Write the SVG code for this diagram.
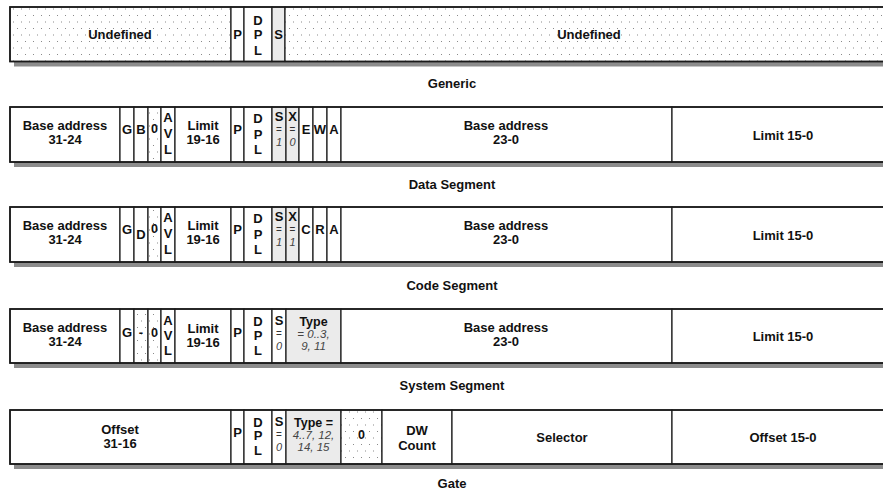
<svg xmlns="http://www.w3.org/2000/svg" width="883" height="493" viewBox="0 0 883 493">
<defs>
<pattern id="dots" width="8" height="13" patternUnits="userSpaceOnUse">
<rect width="8" height="13" fill="#fff"/>
<rect x="1" y="2" width="1" height="1" fill="#8a8a8a"/>
<rect x="5" y="8.5" width="1" height="1" fill="#8a8a8a"/>
</pattern>
</defs>
<style>
.t{font-family:"Liberation Sans",Arial,sans-serif;font-size:13px;font-weight:bold;fill:#111;text-anchor:middle}
.ty{font-family:"Liberation Sans",Arial,sans-serif;font-size:12.5px;font-weight:bold;fill:#111;text-anchor:middle}
.i{font-family:"Liberation Sans",Arial,sans-serif;font-size:11.5px;font-style:italic;fill:#444;text-anchor:middle}
.v{font-family:"Liberation Sans",Arial,sans-serif;font-size:11px;font-style:italic;fill:#444;text-anchor:middle}
.n{font-family:"Liberation Sans",Arial,sans-serif;font-size:10px;fill:#333;text-anchor:middle}
.w{fill:#fff;stroke:#1a1a1a;stroke-width:1.2}
.g{fill:#ebebeb;stroke:#1a1a1a;stroke-width:1.2}
.d{fill:url(#dots);stroke:#1a1a1a;stroke-width:1.2}
.sh{fill:#8c8c8c}
.box{fill:none;stroke:#1a1a1a;stroke-width:1.7}
.lbl{font-family:"Liberation Sans",Arial,sans-serif;font-size:13px;font-weight:bold;fill:#111;text-anchor:middle}
</style>

<!-- Row 1: Generic -->
<g id="row-generic">
<rect class="sh" x="14" y="61.5" width="884" height="5"/>
<g id="g-undef1"><rect class="d" x="10" y="7" width="221" height="54.5"/><text class="t" x="120" y="38.5">Undefined</text></g>
<g id="g-p"><rect class="w" x="231" y="7" width="13" height="54.5"/><text class="t" x="237.5" y="38.5">P</text></g>
<g id="g-dpl"><rect class="w" x="244" y="7" width="28" height="54.5"/><text class="t" x="258" y="24.5">D</text><text class="t" x="258" y="39">P</text><text class="t" x="258" y="54.5">L</text></g>
<g id="g-s"><rect class="g" x="272" y="7" width="13" height="54.5"/><text class="t" x="278.5" y="38.5">S</text></g>
<g id="g-undef2"><rect class="d" x="285" y="7" width="609" height="54.5"/><text class="t" x="589" y="38.5">Undefined</text></g>
<rect class="box" x="10" y="7" width="884" height="54.5"/>
</g>
<text id="lbl-generic" class="lbl" x="452" y="88">Generic</text>

<!-- Row 2: Data Segment -->
<g id="row-data">
<rect class="sh" x="14" y="162" width="884" height="5"/>
<g id="d-base1"><rect class="w" x="10" y="107" width="110" height="55"/><text class="t" x="65" y="130">Base address</text><text class="t" x="65" y="144">31-24</text></g>
<g id="d-g"><rect class="w" x="120" y="107" width="14" height="55"/><text class="t" x="127" y="134">G</text></g>
<g id="d-b"><rect class="w" x="134" y="107" width="14" height="55"/><text class="t" x="141" y="134">B</text></g>
<g id="d-0"><rect class="d" x="148" y="107" width="13" height="55"/><text class="ty" x="154.5" y="133">0</text></g>
<g id="d-avl"><rect class="w" x="161" y="107" width="14" height="55"/><text class="t" x="168" y="122">A</text><text class="t" x="168" y="138">V</text><text class="t" x="168" y="154">L</text></g>
<g id="d-limit1"><rect class="w" x="175" y="107" width="56" height="55"/><text class="t" x="203" y="130">Limit</text><text class="t" x="203" y="144">19-16</text></g>
<g id="d-p"><rect class="w" x="231" y="107" width="13" height="55"/><text class="t" x="237.5" y="134">P</text></g>
<g id="d-dpl"><rect class="w" x="244" y="107" width="28" height="55"/><text class="t" x="258" y="123">D</text><text class="t" x="258" y="138.5">P</text><text class="t" x="258" y="154">L</text></g>
<g id="d-s"><rect class="g" x="272" y="107" width="14" height="55"/><text class="t" x="279" y="120.5">S</text><text class="n" x="279" y="133">=</text><text class="v" x="279" y="146">1</text></g>
<g id="d-x"><rect class="g" x="286" y="107" width="13" height="55"/><text class="t" x="292.5" y="120.5">X</text><text class="n" x="292.5" y="133">=</text><text class="v" x="292.5" y="146">0</text></g>
<g id="d-e"><rect class="w" x="299" y="107" width="14" height="55"/><text class="t" x="306" y="134">E</text></g>
<g id="d-w"><rect class="w" x="313" y="107" width="14" height="55"/><text class="t" x="320" y="134">W</text></g>
<g id="d-a"><rect class="w" x="327" y="107" width="14" height="55"/><text class="t" x="334" y="134">A</text></g>
<g id="d-base2"><rect class="w" x="341" y="107" width="331" height="55"/><text class="t" x="506" y="130">Base address</text><text class="t" x="506" y="144">23-0</text></g>
<g id="d-limit2"><rect class="w" x="672" y="107" width="222" height="55"/><text class="t" x="783" y="140">Limit 15-0</text></g>
<rect class="box" x="10" y="107" width="884" height="55"/>
</g>
<text id="lbl-data" class="lbl" x="452" y="189">Data Segment</text>

<!-- Row 3: Code Segment -->
<g id="row-code">
<rect class="sh" x="14" y="262" width="884" height="5"/>
<g id="c-base1"><rect class="w" x="10" y="207" width="110" height="55"/><text class="t" x="65" y="230">Base address</text><text class="t" x="65" y="244">31-24</text></g>
<g id="c-g"><rect class="w" x="120" y="207" width="14" height="55"/><text class="t" x="127" y="234">G</text></g>
<g id="c-d"><rect class="w" x="134" y="207" width="14" height="55"/><text class="t" x="141" y="239">D</text></g>
<g id="c-0"><rect class="d" x="148" y="207" width="13" height="55"/><text class="ty" x="154.5" y="233">0</text></g>
<g id="c-avl"><rect class="w" x="161" y="207" width="14" height="55"/><text class="t" x="168" y="222">A</text><text class="t" x="168" y="238">V</text><text class="t" x="168" y="254">L</text></g>
<g id="c-limit1"><rect class="w" x="175" y="207" width="56" height="55"/><text class="t" x="203" y="230">Limit</text><text class="t" x="203" y="244">19-16</text></g>
<g id="c-p"><rect class="w" x="231" y="207" width="13" height="55"/><text class="t" x="237.5" y="234">P</text></g>
<g id="c-dpl"><rect class="w" x="244" y="207" width="28" height="55"/><text class="t" x="258" y="223">D</text><text class="t" x="258" y="238.5">P</text><text class="t" x="258" y="254">L</text></g>
<g id="c-s"><rect class="g" x="272" y="207" width="14" height="55"/><text class="t" x="279" y="220.5">S</text><text class="n" x="279" y="233">=</text><text class="v" x="279" y="246">1</text></g>
<g id="c-x"><rect class="g" x="286" y="207" width="13" height="55"/><text class="t" x="292.5" y="220.5">X</text><text class="n" x="292.5" y="233">=</text><text class="v" x="292.5" y="246">1</text></g>
<g id="c-c"><rect class="w" x="299" y="207" width="14" height="55"/><text class="t" x="306" y="234">C</text></g>
<g id="c-r"><rect class="w" x="313" y="207" width="14" height="55"/><text class="t" x="320" y="234">R</text></g>
<g id="c-a"><rect class="w" x="327" y="207" width="14" height="55"/><text class="t" x="334" y="234">A</text></g>
<g id="c-base2"><rect class="w" x="341" y="207" width="331" height="55"/><text class="t" x="506" y="230">Base address</text><text class="t" x="506" y="244">23-0</text></g>
<g id="c-limit2"><rect class="w" x="672" y="207" width="222" height="55"/><text class="t" x="783" y="240">Limit 15-0</text></g>
<rect class="box" x="10" y="207" width="884" height="55"/>
</g>
<text id="lbl-code" class="lbl" x="452" y="290">Code Segment</text>

<!-- Row 4: System Segment -->
<g id="row-system">
<rect class="sh" x="14" y="363" width="884" height="5"/>
<g id="s-base1"><rect class="w" x="10" y="309" width="110" height="54"/><text class="t" x="65" y="332">Base address</text><text class="t" x="65" y="346">31-24</text></g>
<g id="s-g"><rect class="w" x="120" y="309" width="14" height="54"/><text class="t" x="127" y="337">G</text></g>
<g id="s-dash"><rect class="d" x="134" y="309" width="14" height="54"/><text class="t" x="141" y="337">-</text></g>
<g id="s-0"><rect class="d" x="148" y="309" width="13" height="54"/><text class="ty" x="154.5" y="337">0</text></g>
<g id="s-avl"><rect class="w" x="161" y="309" width="14" height="54"/><text class="t" x="168" y="325">A</text><text class="t" x="168" y="340">V</text><text class="t" x="168" y="355">L</text></g>
<g id="s-limit1"><rect class="w" x="175" y="309" width="56" height="54"/><text class="t" x="203" y="332.5">Limit</text><text class="t" x="203" y="346.5">19-16</text></g>
<g id="s-p"><rect class="w" x="231" y="309" width="13" height="54"/><text class="t" x="237.5" y="337">P</text></g>
<g id="s-dpl"><rect class="w" x="244" y="309" width="28" height="54"/><text class="t" x="258" y="325.5">D</text><text class="t" x="258" y="340">P</text><text class="t" x="258" y="355">L</text></g>
<g id="s-s"><rect class="w" x="272" y="309" width="14" height="54"/><text class="t" x="279" y="324.5">S</text><text class="n" x="279" y="337">=</text><text class="v" x="279" y="350">0</text></g>
<g id="s-type"><rect class="g" x="286" y="309" width="55" height="54"/><text class="ty" x="313.5" y="325.5">Type</text><text class="i" x="313.5" y="337.5">= 0..3,</text><text class="i" x="313.5" y="349.5">9, 11</text></g>
<g id="s-base2"><rect class="w" x="341" y="309" width="331" height="54"/><text class="t" x="506" y="332">Base address</text><text class="t" x="506" y="346">23-0</text></g>
<g id="s-limit2"><rect class="w" x="672" y="309" width="222" height="54"/><text class="t" x="783" y="341">Limit 15-0</text></g>
<rect class="box" x="10" y="309" width="884" height="54"/>
</g>
<text id="lbl-system" class="lbl" x="452" y="390">System Segment</text>

<!-- Row 5: Gate -->
<g id="row-gate">
<rect class="sh" x="14" y="464" width="884" height="5"/>
<g id="t-offset1"><rect class="w" x="10" y="410" width="221" height="54"/><text class="t" x="120" y="434">Offset</text><text class="t" x="120" y="448">31-16</text></g>
<g id="t-p"><rect class="w" x="231" y="410" width="13" height="54"/><text class="t" x="237.5" y="437">P</text></g>
<g id="t-dpl"><rect class="w" x="244" y="410" width="28" height="54"/><text class="t" x="258" y="426.5">D</text><text class="t" x="258" y="440">P</text><text class="t" x="258" y="455">L</text></g>
<g id="t-s"><rect class="w" x="272" y="410" width="14" height="54"/><text class="t" x="279" y="425.5">S</text><text class="n" x="279" y="438">=</text><text class="v" x="279" y="451">0</text></g>
<g id="t-type"><rect class="g" x="286" y="410" width="55" height="54"/><text class="ty" x="313.5" y="426.5">Type =</text><text class="i" x="313.5" y="438.5">4..7, 12,</text><text class="i" x="313.5" y="450.5">14, 15</text></g>
<g id="t-0"><rect class="d" x="341" y="410" width="41" height="54"/><text class="ty" x="361.5" y="438.5">0</text></g>
<g id="t-dw"><rect class="w" x="382" y="410" width="70" height="54"/><text class="t" x="417" y="435">DW</text><text class="t" x="417" y="450">Count</text></g>
<g id="t-selector"><rect class="w" x="452" y="410" width="220" height="54"/><text class="t" x="562" y="442">Selector</text></g>
<g id="t-offset2"><rect class="w" x="672" y="410" width="222" height="54"/><text class="t" x="783" y="442">Offset 15-0</text></g>
<rect class="box" x="10" y="410" width="884" height="54"/>
</g>
<text id="lbl-gate" class="lbl" x="452" y="488">Gate</text>

<g id="connectors"/>
</svg>
